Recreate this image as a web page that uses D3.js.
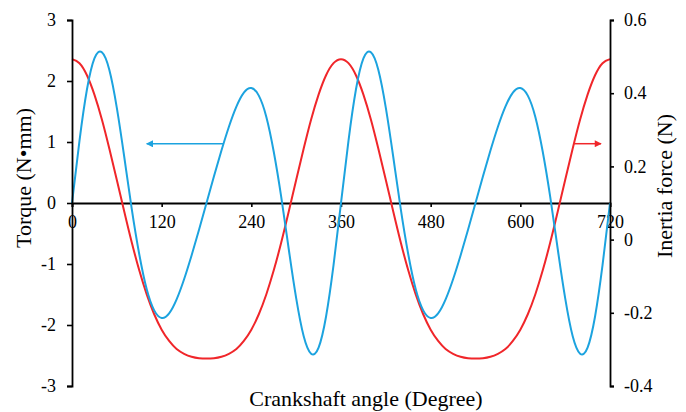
<!DOCTYPE html>
<html>
<head>
<meta charset="utf-8">
<script src="https://cdn.jsdelivr.net/npm/d3@7"></script>
<style>
  html, body { margin: 0; padding: 0; background: #fff; }
  svg { display: block; }
  text { font-family: "Liberation Serif", "Times New Roman", serif; fill: #000; }
</style>
</head>
<body>
<svg id="chart" width="686" height="412"></svg>
<script>
// Crank angle samples (degrees), every 10°
const angles = [
  0, 10, 20, 30, 40, 50, 60, 70, 80, 90, 100, 110, 120, 130, 140, 150, 160, 170, 180,
  190, 200, 210, 220, 230, 240, 250, 260, 270, 280, 290, 300, 310, 320, 330, 340, 350, 360,
  370, 380, 390, 400, 410, 420, 430, 440, 450, 460, 470, 480, 490, 500, 510, 520, 530, 540,
  550, 560, 570, 580, 590, 600, 610, 620, 630, 640, 650, 660, 670, 680, 690, 700, 710, 720
];

// Torque (N•mm), left axis
const torque = [
  0, 1.02, 1.86, 2.37, 2.47, 2.18, 1.56, 0.75, -0.10, -0.84, -1.415, -1.76, -1.885, -1.81, -1.58, -1.25, -0.86, -0.44, 0,
  0.44, 0.86, 1.25, 1.58, 1.81, 1.885, 1.76, 1.415, 0.84, 0.10, -0.75, -1.56, -2.18, -2.47, -2.37, -1.86, -1.02, 0,
  1.02, 1.86, 2.37, 2.47, 2.18, 1.56, 0.75, -0.10, -0.84, -1.415, -1.76, -1.885, -1.81, -1.58, -1.25, -0.86, -0.44, 0,
  0.44, 0.86, 1.25, 1.58, 1.81, 1.885, 1.76, 1.415, 0.84, 0.10, -0.75, -1.56, -2.18, -2.47, -2.37, -1.86, -1.02, 0
];

// Inertia force (N), right axis
const inertia = [
  0.493, 0.482, 0.449, 0.396, 0.328, 0.248, 0.163, 0.076, -0.008, -0.084, -0.150, -0.204, -0.246, -0.277, -0.299, -0.312, -0.320, -0.324, -0.325,
  -0.324, -0.320, -0.312, -0.299, -0.277, -0.246, -0.204, -0.150, -0.084, -0.008, 0.076, 0.163, 0.248, 0.328, 0.396, 0.449, 0.482, 0.493,
  0.482, 0.449, 0.396, 0.328, 0.248, 0.163, 0.076, -0.008, -0.084, -0.150, -0.204, -0.246, -0.277, -0.299, -0.312, -0.320, -0.324, -0.325,
  -0.324, -0.320, -0.312, -0.299, -0.277, -0.246, -0.204, -0.150, -0.084, -0.008, 0.076, 0.163, 0.248, 0.328, 0.396, 0.449, 0.482, 0.493
];

// Tick values
const xTicks = [0, 120, 240, 360, 480, 600, 720];
const leftTicks = [-3, -2, -1, 0, 1, 2, 3];
const rightTicks = [-0.4, -0.2, 0, 0.2, 0.4, 0.6];

// Arrow annotations: [start angle, end angle, value on the matching axis]
const torqueArrow = [203, 100, 0.97];
const inertiaArrow = [672, 708, 0.262];

const BLUE = "#1ca3df";
const RED = "#f0262a";
const SERIF = '"Liberation Serif", "Times New Roman", serif';

const svg = d3.select("#chart");
const x = d3.scaleLinear().domain([0, 720]).range([72, 610]);
const yL = d3.scaleLinear().domain([-3, 3]).range([386, 20]);
const yR = d3.scaleLinear().domain([-0.4, 0.6]).range([386, 20]);

// Plain hyphen for negative numbers
const fmtInt = d => String(d);
const fmtDec = d => d === 0 ? "0" : d.toFixed(1);

// X axis along torque = 0
const xAxis = svg.append("g")
  .attr("transform", `translate(0,${yL(0)})`)
  .call(d3.axisBottom(x).tickValues(xTicks).tickSize(4).tickPadding(8).tickFormat(fmtInt));

// Curves
const line = (yScale, vals) => d3.line()
  .x((d, i) => x(angles[i]))
  .y((d, i) => yScale(vals[i]))
  .curve(d3.curveNatural)(vals);

svg.append("path").attr("d", line(yR, inertia))
  .attr("fill", "none").attr("stroke", RED).attr("stroke-width", 2);
svg.append("path").attr("d", line(yL, torque))
  .attr("fill", "none").attr("stroke", BLUE).attr("stroke-width", 2);

// Left axis
const leftAxis = svg.append("g")
  .attr("transform", `translate(${x(0)},0)`)
  .call(d3.axisLeft(yL).tickValues(leftTicks).tickSize(5).tickPadding(11).tickFormat(fmtInt));

// Right axis
const rightAxis = svg.append("g")
  .attr("transform", `translate(${x(720)},0)`)
  .call(d3.axisRight(yR).tickValues(rightTicks).tickSize(4).tickPadding(10).tickFormat(fmtDec));

[xAxis, leftAxis, rightAxis].forEach(g => {
  g.attr("font-family", SERIF).attr("font-size", 18);
  g.selectAll("text").style("font-family", SERIF).style("font-size", "18px").attr("fill", "#000");
  g.selectAll(".domain").attr("stroke", "#000").attr("stroke-width", 1.8);
  g.selectAll(".tick line").attr("stroke", "#000").attr("stroke-width", 1.6);
});
// Axis lines sit above the tick labels they cross
leftAxis.raise(); rightAxis.raise();

// Arrow markers
const defs = svg.append("defs");
[["arrowBlue", BLUE], ["arrowRed", RED]].forEach(([id, c]) => {
  defs.append("marker").attr("id", id)
    .attr("viewBox", "0 0 10 10").attr("refX", 9).attr("refY", 5)
    .attr("markerWidth", 9).attr("markerHeight", 7).attr("markerUnits", "userSpaceOnUse")
    .attr("orient", "auto")
    .append("path").attr("d", "M0,0 L10,5 L0,10 z").attr("fill", c);
});

svg.append("line")
  .attr("x1", x(torqueArrow[0])).attr("x2", x(torqueArrow[1]))
  .attr("y1", yL(torqueArrow[2])).attr("y2", yL(torqueArrow[2]))
  .attr("stroke", BLUE).attr("stroke-width", 1.5).attr("marker-end", "url(#arrowBlue)");
svg.append("line")
  .attr("x1", x(inertiaArrow[0])).attr("x2", x(inertiaArrow[1]))
  .attr("y1", yR(inertiaArrow[2])).attr("y2", yR(inertiaArrow[2]))
  .attr("stroke", RED).attr("stroke-width", 1.5).attr("marker-end", "url(#arrowRed)");

// Axis titles
svg.append("text").attr("x", 366).attr("y", 406).attr("text-anchor", "middle")
  .style("font-size", "22px").text("Crankshaft angle (Degree)");
svg.append("text").attr("transform", "translate(31,178) rotate(-90)").attr("text-anchor", "middle")
  .style("font-size", "22px").text("Torque (N•mm)");
svg.append("text").attr("transform", "translate(672,186) rotate(-90)").attr("text-anchor", "middle")
  .style("font-size", "22px").text("Inertia force (N)");
</script>
</body>
</html>
